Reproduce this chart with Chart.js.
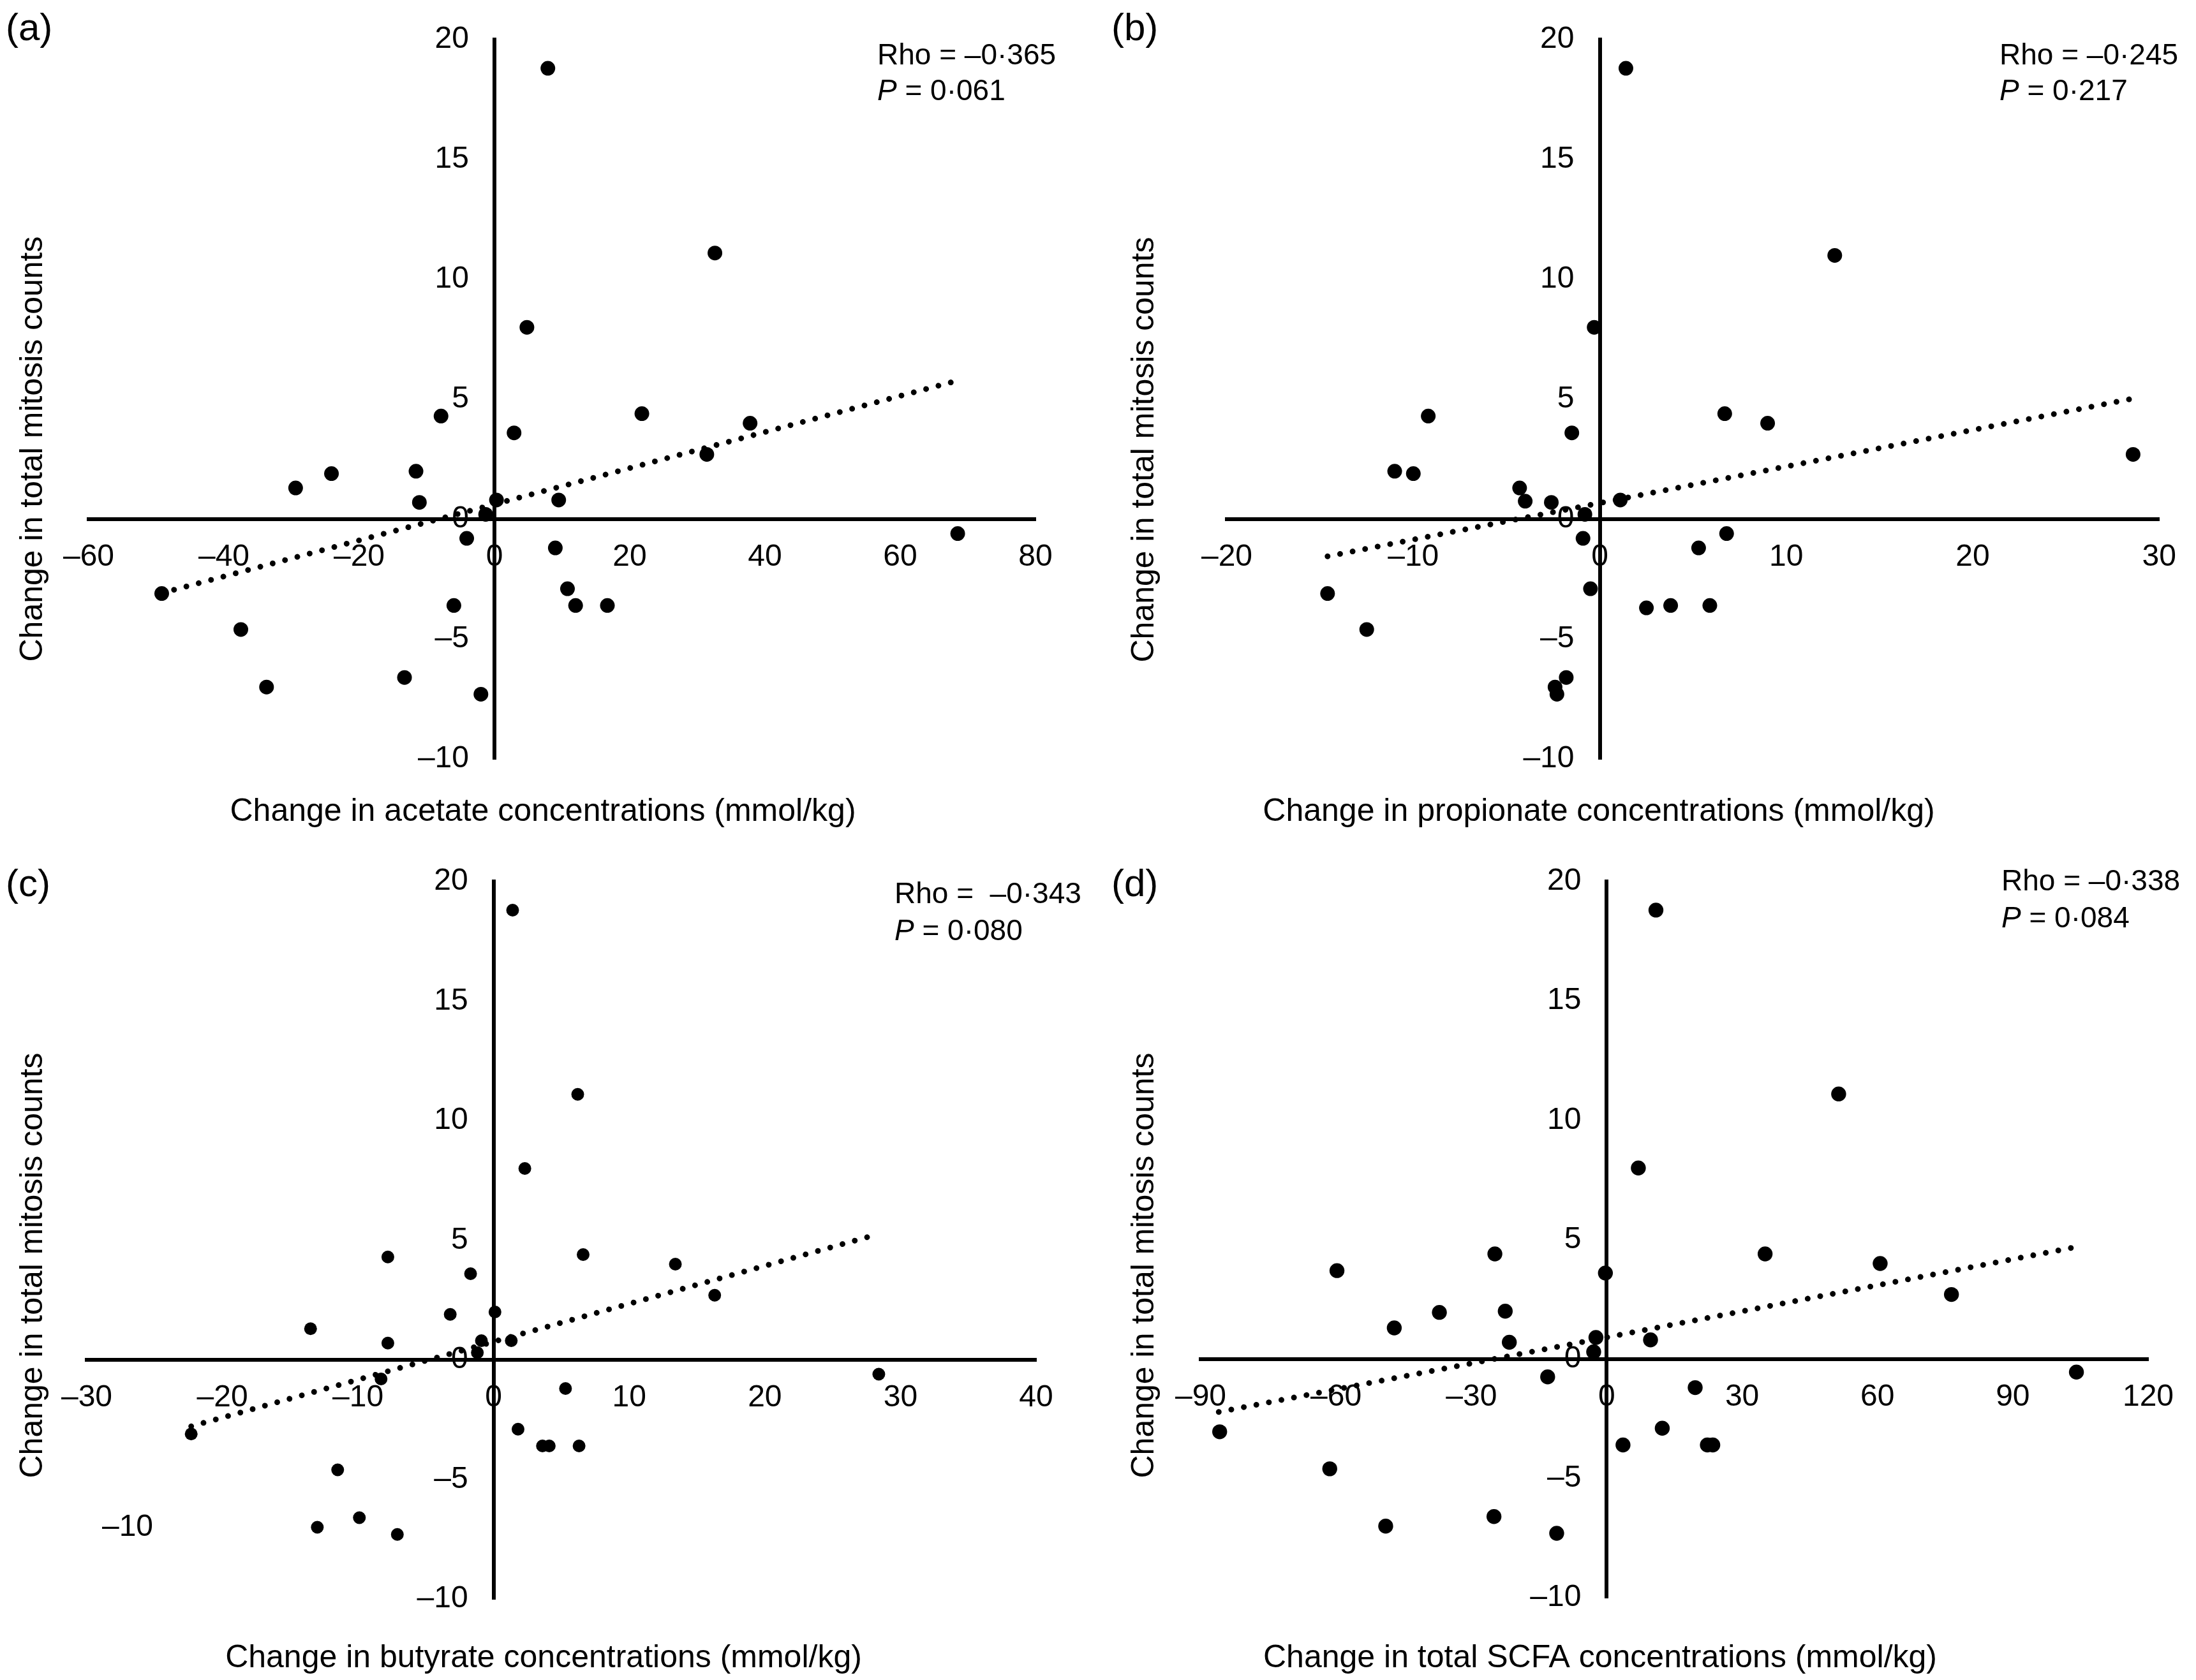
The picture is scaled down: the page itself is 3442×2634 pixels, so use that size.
<!DOCTYPE html>
<html>
<head>
<title>Change in mitosis counts vs SCFA concentrations</title>
<script src="https://cdn.jsdelivr.net/npm/chart.js"></script>
<style>
  body { margin: 0; background: #fff; }
  canvas { position: absolute; }
</style>
</head>
<body>
<canvas id="chartA" width="1721" height="1317" style="left:0;top:0"></canvas>
<canvas id="chartB" width="1721" height="1317" style="left:1721px;top:0"></canvas>
<canvas id="chartC" width="1721" height="1317" style="left:0;top:1317px"></canvas>
<canvas id="chartD" width="1721" height="1317" style="left:1721px;top:1317px"></canvas>
<script>
// values (x = change in SCFA, y = change in total mitosis counts)
const acetateX = [7.9, 32.6, 4.8, 21.8, -7.9, 37.8, 2.9, 31.4, -11.6, -24.1, -29.4, -11.1, 0.3, 9.5, -1.3, 68.5, -4.1, 9.0, 10.8, -49.2, -6.0, 12.0, 16.7, -37.5, -13.3, -33.7, -2.0];
const acetateY = [18.8, 11.1, 8.0, 4.4, 4.3, 4.0, 3.6, 2.7, 2.0, 1.9, 1.3, 0.7, 0.8, 0.8, 0.2, -0.6, -0.8, -1.2, -2.9, -3.1, -3.6, -3.6, -3.6, -4.6, -6.6, -7.0, -7.3];

const propionateX = [1.4, 12.6, -0.3, 6.7, -9.2, 9.0, -1.5, 28.6, -11.0, -10.0, -4.3, -4.0, -2.6, 1.1, -0.8, 6.8, -0.9, 5.3, -0.5, -14.6, 2.5, 3.8, 5.9, -12.5, -1.8, -2.4, -2.3];
const propionateY = [18.8, 11.0, 8.0, 4.4, 4.3, 4.0, 3.6, 2.7, 2.0, 1.9, 1.3, 0.75, 0.7, 0.8, 0.2, -0.6, -0.8, -1.2, -2.9, -3.1, -3.7, -3.6, -3.6, -4.6, -6.6, -7.0, -7.3];

const butyrateX = [1.4, 6.2, 2.3, 6.6, -7.8, 13.4, -1.7, 16.3, 0.1, -3.2, -13.5, -7.8, -0.9, 1.3, -1.2, 28.4, -8.3, 5.3, 1.8, -22.3, 3.6, 4.1, 6.3, -11.5, -9.9, -13.0, -7.1];
const butyrateY = [18.8, 11.1, 8.0, 4.4, 4.3, 4.0, 3.6, 2.7, 2.0, 1.9, 1.3, 0.7, 0.8, 0.8, 0.3, -0.6, -0.8, -1.2, -2.9, -3.1, -3.6, -3.6, -3.6, -4.6, -6.6, -7.0, -7.3];

const totalX = [10.9, 51.4, 7.0, 35.1, -24.8, 60.6, -59.8, -0.3, 76.4, -22.5, -37.1, -47.1, -21.6, -2.4, 9.7, -2.9, 104.1, -13.1, 19.6, 12.3, -85.8, 3.6, 22.3, 23.5, -61.4, -25.0, -49.0, -11.1];
const totalY = [18.8, 11.1, 8.0, 4.4, 4.4, 4.0, 3.7, 3.6, 2.7, 2.0, 1.95, 1.3, 0.7, 0.9, 0.8, 0.3, -0.55, -0.75, -1.2, -2.9, -3.05, -3.6, -3.6, -3.6, -4.6, -6.6, -7.0, -7.3];

// dotted trend lines (end points)
const trendAX = [-49.2, 68.5], trendAY = [-3.08, 5.78];
const trendBX = [-14.6, 28.6], trendBY = [-1.55, 5.03];
const trendCX = [-22.3, 28.0], trendCY = [-2.78, 5.2];
const trendDX = [-86.0, 103.5], trendDY = [-2.22, 4.67];

// axes: [min, max, step]
const xAxisA = [-60, 80, 20];
const xAxisB = [-20, 30, 10];
const xAxisC = [-30, 40, 10];
const xAxisD = [-90, 120, 30];
const yAxis = [-10, 20, 5];

const yTitle = 'Change in total mitosis counts';
const rhoText = ['Rho = \u20130\u00b7365', 'Rho = \u20130\u00b7245', 'Rho =  \u20130\u00b7343', 'Rho = \u20130\u00b7338'];
const pText = ['0\u00b7061', '0\u00b7217', '0\u00b7080', '0\u00b7084'];

const FONT = '"Liberation Sans", Arial, sans-serif';

function fmt(v) {
  return v < 0 ? '\u2013' + Math.abs(v) : String(v);
}

function textPlugin(t) {
  return {
    id: 'panelText',
    afterDraw(chart) {
      const ctx = chart.ctx;
      ctx.save();
      ctx.fillStyle = '#000';
      ctx.textBaseline = 'middle';

      ctx.font = '60px ' + FONT;
      ctx.textAlign = 'left';
      ctx.fillText(t.label, t.labelPos[0], t.labelPos[1]);

      ctx.font = '50px ' + FONT;
      ctx.textAlign = 'center';
      ctx.fillText(t.xTitle, t.xTitlePos[0], t.xTitlePos[1]);
      ctx.save();
      ctx.translate(t.yTitlePos[0], t.yTitlePos[1]);
      ctx.rotate(-Math.PI / 2);
      ctx.fillText(yTitle, 0, 0);
      ctx.restore();

      ctx.textAlign = 'left';
      ctx.font = '46px ' + FONT;
      ctx.fillText(t.rho, t.statPos[0], t.statPos[1]);
      ctx.font = 'italic 46px ' + FONT;
      ctx.fillText('P', t.statPos[0], t.statPos[2]);
      const w = ctx.measureText('P').width;
      ctx.font = '46px ' + FONT;
      ctx.fillText(' = ' + t.p, t.statPos[0] + w, t.statPos[2]);

      if (t.extra) {
        ctx.font = '48px ' + FONT;
        ctx.textAlign = 'center';
        ctx.fillText(t.extra[0], t.extra[1], t.extra[2]);
      }
      ctx.restore();
    }
  };
}

function makePanel(id, xs, ys, tx, ty, xAxis, radius, pad, text) {
  new Chart(document.getElementById(id), {
    type: 'scatter',
    data: {
      datasets: [
        {
          data: xs.map((x, i) => ({x: x, y: ys[i]})),
          backgroundColor: '#000',
          borderWidth: 0,
          pointRadius: radius,
          pointHoverRadius: radius
        },
        {
          type: 'line',
          data: tx.map((x, i) => ({x: x, y: ty[i]})),
          borderColor: '#000',
          borderWidth: 9,
          borderDash: [0.001, 20],
          borderCapStyle: 'round',
          pointRadius: 0,
          fill: false
        }
      ]
    },
    options: {
      responsive: false,
      animation: false,
      devicePixelRatio: 1,
      layout: {padding: pad},
      plugins: {legend: {display: false}, tooltip: {enabled: false}},
      scales: {
        x: {
          type: 'linear',
          position: {y: 0},
          min: xAxis[0], max: xAxis[1],
          grid: {display: false, drawTicks: false},
          border: {color: '#000', width: 6},
          ticks: {stepSize: xAxis[2], color: '#000', font: {family: FONT, size: 48}, padding: 31,
                  maxRotation: 0, autoSkip: false, callback: fmt}
        },
        y: {
          type: 'linear',
          position: {x: 0},
          min: yAxis[0], max: yAxis[1],
          grid: {display: false, drawTicks: false},
          border: {color: '#000', width: 6},
          ticks: {stepSize: yAxis[2], color: '#000', font: {family: FONT, size: 48},
                  autoSkip: false, callback: v => fmt(v) + '   '}
        }
      }
    },
    plugins: [textPlugin(text)]
  });
}

makePanel('chartA', acetateX, acetateY, trendAX, trendAY, xAxisA, 11.5,
  {left: 139, right: 98, top: 62, bottom: 127},
  {label: '(a)', labelPos: [9, 46], xTitle: 'Change in acetate concentrations (mmol/kg)', xTitlePos: [851, 1273],
   yTitlePos: [52, 704], rho: rhoText[0], p: pText[0], statPos: [1375, 88, 144]});

makePanel('chartB', propionateX, propionateY, trendBX, trendBY, xAxisB, 11.5,
  {left: 202, right: 38, top: 62, bottom: 127},
  {label: '(b)', labelPos: [21, 46], xTitle: 'Change in propionate concentrations (mmol/kg)', xTitlePos: [785, 1273],
   yTitlePos: [73, 705], rho: rhoText[1], p: pText[1], statPos: [1413, 88, 144]});

makePanel('chartC', butyrateX, butyrateY, trendCX, trendCY, xAxisC, 10,
  {left: 136, right: 97, top: 65, bottom: 127},
  {label: '(c)', labelPos: [9, 71], xTitle: 'Change in butyrate concentrations (mmol/kg)', xTitlePos: [852, 1283],
   yTitlePos: [52, 667], rho: rhoText[2], p: pText[2], statPos: [1402, 86, 144],
   extra: ['\u201310', 200, 1078]});

makePanel('chartD', totalX, totalY, trendDX, trendDY, xAxisD, 11.7,
  {left: 161, right: 75, top: 65, bottom: 129},
  {label: '(d)', labelPos: [21, 71], xTitle: 'Change in total SCFA concentrations (mmol/kg)', xTitlePos: [787, 1283],
   yTitlePos: [73, 667], rho: rhoText[3], p: pText[3], statPos: [1416, 66, 124]});
</script>
</body>
</html>
